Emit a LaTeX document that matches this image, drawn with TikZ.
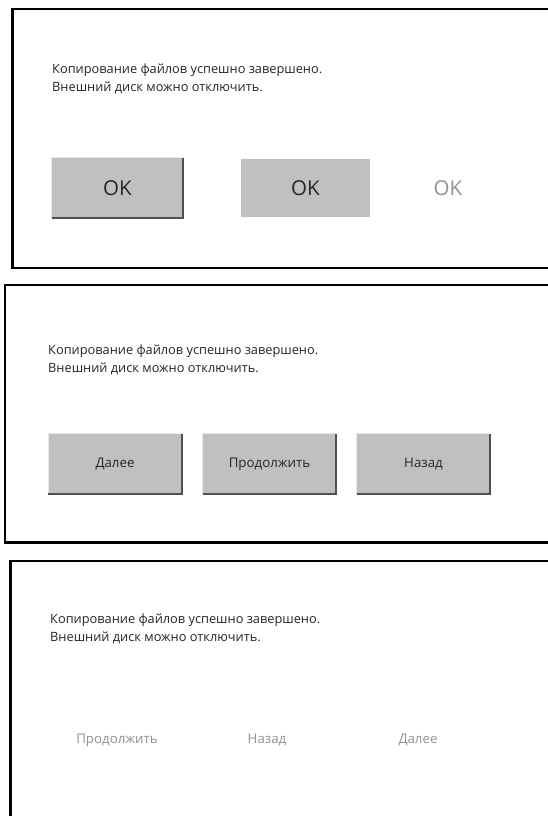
\documentclass[tikz,border=0pt]{standalone}
\usepackage{fontspec}
\setmainfont{Open Sans}
\definecolor{txtgray}{HTML}{262626}
\definecolor{offgray}{HTML}{929292}
\definecolor{btnfill}{HTML}{C0C0C0}
\definecolor{bevdark}{HTML}{505050}
\definecolor{bevlite}{HTML}{E8E8E8}
\tikzset{
  msg/.style={anchor=base west,inner sep=0pt,text=txtgray,font=\fontsize{12.8}{15}\selectfont},
  btn/.style={fill=btnfill,inner sep=0pt,minimum width=133pt,minimum height=60pt,text height=9.5pt,text depth=2.5pt,text=txtgray,font=\fontsize{13.3}{16}\selectfont},
  flatbtn/.style={fill=btnfill,inner sep=0pt,minimum width=129pt,minimum height=58pt,text height=15pt,text depth=0pt,text=txtgray,font=\fontsize{20.5}{24}\selectfont},
  offlabel/.style={inner sep=0pt,text height=9.5pt,text depth=2.5pt,text=offgray,font=\fontsize{13.3}{16}\selectfont},
  frame/.style={line width=2.8pt,draw=black}
}
\begin{document}
\begin{tikzpicture}[x=1pt,y=-1pt]
\useasboundingbox[fill=white] (0,0) rectangle (548,816);

% panel 1
\draw[frame] (549,9) -- (12.5,9) -- (12.5,268) -- (549,268);
\node[msg] (msgA1) at (52,74) {Копирование файлов успешно завершено.};
\node[msg] (msgA2) at (52,92) {Внешний диск можно отключить.};
\node[btn,minimum width=131pt,text height=15pt,text depth=0pt,font=\fontsize{20.5}{24}\selectfont] (okA) at (117.5,188) {OK};
\node[flatbtn] (okB) at (305.5,188) {OK};
\node[offlabel,text height=15pt,text depth=0pt,font=\fontsize{20.5}{24}\selectfont] (okC) at (448,188) {OK};

% panel 2
\draw[frame] (549,285) -- (5,285) -- (5,542.5) -- (549,542.5);
\node[msg] (msgB1) at (48,354) {Копирование файлов успешно завершено.};
\node[msg] (msgB2) at (48,372) {Внешний диск можно отключить.};
\node[btn] (nextB) at (115,464) {Далее};
\node[btn] (contB) at (269.5,464) {Продолжить};
\node[btn] (backB) at (423.5,464) {Назад};

% panel 3
\draw[frame] (549,561) -- (10.5,561) -- (10.5,817);
\node[msg] (msgC1) at (50,623) {Копирование файлов успешно завершено.};
\node[msg] (msgC2) at (50,641) {Внешний диск можно отключить.};
\node[offlabel] (contC) at (117,740) {Продолжить};
\node[offlabel] (backC) at (267,740) {Назад};
\node[offlabel] (nextC) at (418,740) {Далее};

% bevel edges
\foreach \b in {okA,nextB,contB,backB}{
  \draw[bevlite,line width=1.2pt] (\b.south west) -- (\b.north west) -- (\b.north east);
  \draw[bevdark,line width=2pt] (\b.south west) -- (\b.south east) -- (\b.north east);
}
\end{tikzpicture}
\end{document}
